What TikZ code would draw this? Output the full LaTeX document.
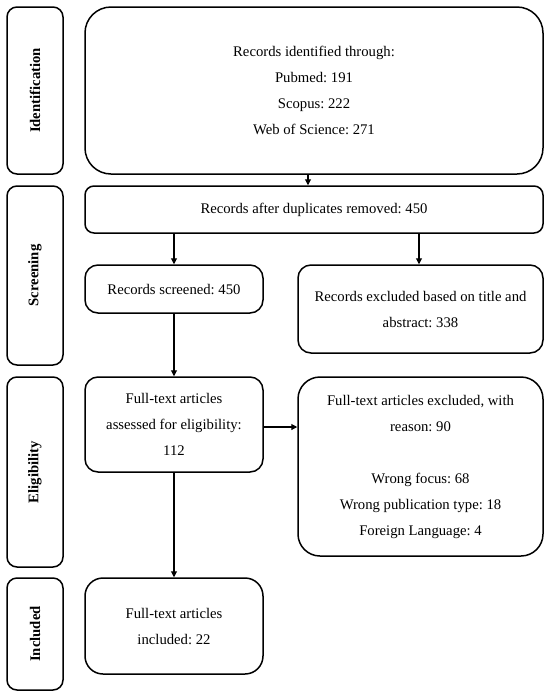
\documentclass[tikz,border=0pt]{standalone}
\usepackage{fontspec}
\setmainfont{Liberation Serif}
\usetikzlibrary{arrows.meta}
\frenchspacing
\begin{document}
\begin{tikzpicture}[x=1pt,y=-1pt,
  box/.style={draw, line width=1.5pt, rounded corners=13pt, inner sep=0pt, align=center,
    font=\fontsize{14.7}{26}\selectfont\frenchspacing},
  sidebox/.style={draw, line width=1.5pt, rounded corners=10pt, inner sep=0pt, minimum width=56pt,
    font=\fontsize{14.7}{26}\selectfont\bfseries},
  arr/.style={line width=1.1pt, -{Triangle[length=6pt,width=6pt]}}]
\useasboundingbox (0,0) rectangle (550,697);
% side labels
\node[sidebox, minimum height=167pt] (idlab) at (35,90.5) {\rotatebox{90}{Identification}};
\node[sidebox, minimum height=179pt] (scrlab) at (35,275.5) {\rotatebox{90}{Screening}};
\node[sidebox, minimum height=190pt] (elilab) at (35,472) {\rotatebox{90}{Eligibility}};
\node[sidebox, minimum height=112pt] (inclab) at (35,634) {\rotatebox{90}{Included}};
% main boxes
\node[box, rounded corners=26pt, minimum width=458pt, minimum height=167pt] (ident) at (314,90.5)
  {Records identified through:\\Pubmed: 191\\Scopus: 222\\Web of Science: 271};
\node[box, rounded corners=9pt, minimum width=458pt, minimum height=47pt] (dup) at (314,209.5)
  {Records after duplicates removed: 450};
\node[box, minimum width=178pt, minimum height=48pt] (scr) at (174,289)
  {Records screened: 450};
\node[box, minimum width=245pt, minimum height=88pt] (exc1) at (420.5,309)
  {Records excluded based on title and\\abstract: 338};
\node[box, minimum width=178pt, minimum height=95pt] (ft) at (174,424.5)
  {Full-text articles\\assessed for eligibility:\\112};
\node[box, rounded corners=22pt, minimum width=245pt, minimum height=179pt] (exc2) at (420.5,466.5)
  {Full-text articles excluded, with\\reason: 90\\[26pt]Wrong focus: 68\\Wrong publication type: 18\\Foreign Language: 4};
\node[box, rounded corners=18pt, minimum width=178pt, minimum height=96pt] (inc) at (174,626)
  {Full-text articles\\included: 22};
% arrows
\draw[arr] ([xshift=-6pt]ident.south) -- ([xshift=-6pt]dup.north);
\draw[arr] (dup.south -| scr.north) -- (scr.north);
\draw[arr] ([xshift=-1.5pt]dup.south -| exc1.north) -- ([xshift=-1.5pt]exc1.north);
\draw[arr] (scr.south) -- (ft.north);
\draw[arr] ([yshift=-2.5pt]ft.east) -- ([yshift=-2.5pt]ft.east -| exc2.west);
\draw[arr] (ft.south) -- (inc.north);
\end{tikzpicture}
\end{document}
